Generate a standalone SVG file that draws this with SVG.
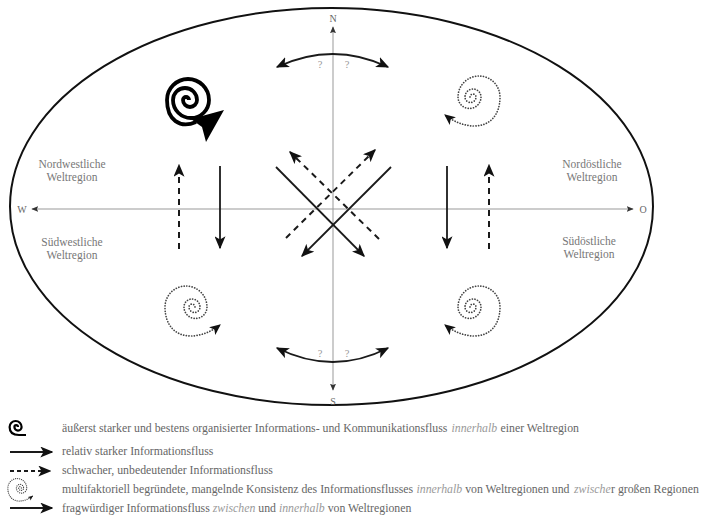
<svg xmlns="http://www.w3.org/2000/svg" width="716" height="518" viewBox="0 0 716 518">
<style>
.lbl{font-family:"Liberation Serif",serif;fill:#777;font-size:11.5px;text-anchor:middle}
.cmp{font-family:"Liberation Serif",serif;fill:#666;font-size:10px;text-anchor:middle}
.q{font-family:"Liberation Serif",serif;fill:#999;font-size:10.5px;text-anchor:middle}
.leg{font-family:"Liberation Serif",serif;fill:#666;font-size:11.8px}
.it{font-style:italic;fill:#9a9a9a}
.ax{stroke:#999;stroke-width:1;fill:none}
.sol{stroke:#1a1a1a;stroke-width:1.8;fill:none}
.dash{stroke:#1a1a1a;stroke-width:2;stroke-dasharray:6 5;fill:none}
.dot{stroke:#444;stroke-width:1.7;stroke-dasharray:0.1 2.6;stroke-linecap:round;fill:none}
.dotl{stroke:#444;stroke-width:2.8;stroke-dasharray:0.1 4.4;stroke-linecap:round;fill:none}
.bold{stroke:#000;stroke-width:3.8;fill:none}
</style>
<defs>
<marker id="ah" viewBox="0 0 10 10" refX="9" refY="5" markerUnits="userSpaceOnUse" markerWidth="13" markerHeight="11" preserveAspectRatio="none" orient="auto-start-reverse"><path d="M0,0 L10,5 L0,10 L2.5,5 z" fill="#111" stroke="none"/></marker>
<marker id="axh" viewBox="0 0 10 10" refX="9" refY="5" markerUnits="userSpaceOnUse" markerWidth="7" markerHeight="6" preserveAspectRatio="none" orient="auto-start-reverse"><path d="M0,0 L10,5 L0,10 L2,5 z" fill="#333" stroke="none"/></marker>
<marker id="sm" viewBox="0 0 10 10" refX="9" refY="5" markerUnits="userSpaceOnUse" markerWidth="11" markerHeight="10" preserveAspectRatio="none" orient="auto"><path d="M0,0 L10,5 L0,10 L2.5,5 z" fill="#111" stroke="none"/></marker>
<path id="dsp" d="M-3,0 A3,3 0 0 1 3,0 A5.5,5.5 0 0 1 -8,0 A8,8 0 0 1 8,0 A11.5,11.5 0 0 1 -15,0 A21,21 0 0 1 27,0 C27,18 17,29 1,29 C-8,29 -19,25 -28,18"/>
</defs>

<g id="frame">
<ellipse cx="331.5" cy="206.5" rx="321.5" ry="198.5" fill="none" stroke="#111" stroke-width="2"/>
</g>

<g id="axes">
<path class="ax" d="M333,390 L333,27" marker-start="url(#axh)" marker-end="url(#axh)"/>
<path class="ax" d="M633,209 L32,209" marker-start="url(#axh)" marker-end="url(#axh)"/>
<text class="cmp" x="333" y="22">N</text>
<text class="cmp" x="333" y="405">S</text>
<text class="cmp" x="22" y="213">W</text>
<text class="cmp" x="643" y="213">O</text>
</g>

<g id="region-nw">
<text class="lbl" x="72" y="168">Nordwestliche</text>
<text class="lbl" x="72" y="181">Weltregion</text>
</g>
<g id="region-sw">
<text class="lbl" x="72" y="246">Südwestliche</text>
<text class="lbl" x="72" y="259">Weltregion</text>
</g>
<g id="region-ne">
<text class="lbl" x="592" y="168">Nordöstliche</text>
<text class="lbl" x="592" y="181">Weltregion</text>
</g>
<g id="region-se">
<text class="lbl" x="589" y="245">Südöstliche</text>
<text class="lbl" x="589" y="258">Weltregion</text>
</g>

<g id="spiral-nw">
<path class="bold" d="M189,100 A3,3 0 0 0 183,100 A7,7 0 0 0 197,100 A12,12 0 0 0 173,100 A18,18 0 0 0 209,100 A21,21 0 0 0 167,100 C167,120 180,129 196,122"/>
<path d="M224,110 L191,119 L202,127 L206,142 Z" fill="#000"/>
</g>
<g id="spiral-ne"><use href="#dsp" class="dot" marker-end="url(#sm)" transform="translate(473,97)"/></g>
<g id="spiral-se"><use href="#dsp" class="dot" marker-end="url(#sm)" transform="translate(473,307)"/></g>
<g id="spiral-sw"><use href="#dsp" class="dot" marker-end="url(#sm)" transform="translate(192,307) scale(-1,1)"/></g>

<g id="connectors">
<path class="dash" d="M179,249 L179,165" marker-end="url(#ah)"/>
<path class="sol" d="M220,166 L220,248" marker-end="url(#ah)"/>
<path class="sol" d="M447,166 L447,248" marker-end="url(#ah)"/>
<path class="dash" d="M489,249 L489,165" marker-end="url(#ah)"/>
<path class="sol" d="M276,167 L364,256" marker-end="url(#ah)"/>
<path class="sol" d="M391,167 L302,256" marker-end="url(#ah)"/>
<path class="dash" d="M286,238 L375,150" marker-end="url(#ah)"/>
<path class="dash" d="M379,239 L290,152" marker-end="url(#ah)"/>
<path class="sol" d="M277,67 Q333,41 388,67" marker-start="url(#ah)" marker-end="url(#ah)"/>
<path class="sol" d="M277,348 Q333,376 388,348" marker-start="url(#ah)" marker-end="url(#ah)"/>
<text class="q" x="320" y="68">?</text>
<text class="q" x="347" y="68">?</text>
<text class="q" x="320" y="357">?</text>
<text class="q" x="347" y="357">?</text>
</g>

<g id="legend">
<path d="M18,427 A1.8,1.8 0 0 0 14.4,427 A3.6,3.6 0 0 0 21.6,427 A6,6 0 0 0 9.6,427 C9.6,433 13,435 19,435 L26,435" fill="none" stroke="#000" stroke-width="2.2"/>
<path class="sol" d="M10,452 L52,452" marker-end="url(#ah)"/>
<path class="dash" style="stroke-dasharray:4 3" d="M10,471 L50,471" marker-end="url(#ah)"/>
<use href="#dsp" class="dotl" marker-end="url(#sm)" transform="translate(20,488) scale(-0.45,0.45)"/>
<path class="sol" d="M10,508 L52,508" marker-end="url(#ah)"/>

<text class="leg" x="62" y="432">äußerst starker und bestens organisierter Informations- und Kommunikationsfluss</text>
<text class="leg it" x="451.5" y="432">innerhalb</text>
<text class="leg" x="500.5" y="432">einer Weltregion</text>

<text class="leg" x="62" y="455">relativ starker Informationsfluss</text>
<text class="leg" x="62" y="474">schwacher, unbedeutender Informationsfluss</text>

<text class="leg" x="62" y="493">multifaktoriell begründete, mangelnde Konsistenz des Informationsflusses</text>
<text class="leg it" x="416.5" y="493">innerhalb</text>
<text class="leg" x="465.2" y="493">von Weltregionen und</text>
<text class="leg it" x="574" y="493">zwische</text>
<text class="leg" x="611" y="493">r großen Regionen</text>

<text class="leg" x="62" y="512">fragwürdiger Informationsfluss</text>
<text class="leg it" x="212.7" y="512">zwischen</text>
<text class="leg" x="258.3" y="512">und</text>
<text class="leg it" x="278.9" y="512">innerhalb</text>
<text class="leg" x="327.7" y="512">von Weltregionen</text>
</g>
</svg>
